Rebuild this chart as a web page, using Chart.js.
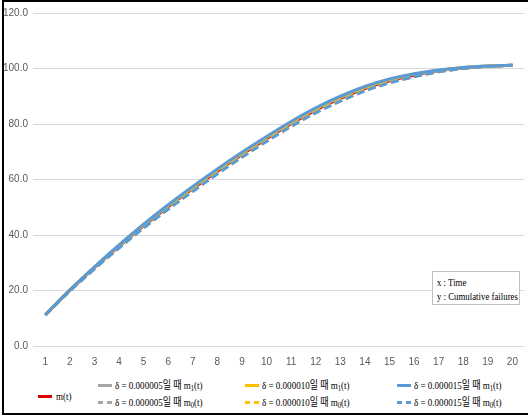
<!DOCTYPE html>
<html>
<head>
<meta charset="utf-8">
<script src="https://cdn.jsdelivr.net/npm/chart.js@4/dist/chart.umd.min.js"></script>
<style>
body{margin:0;background:#fff;}
#frame{position:relative;width:528px;height:420px;overflow:hidden;background:#fff;}
#edge{position:absolute;left:2px;top:0;width:530px;height:415px;border:2px solid #000;box-sizing:border-box;}
#chart{position:absolute;left:0;top:0;}
#note{position:absolute;left:432px;top:271px;width:88px;height:34px;box-sizing:border-box;border:1px solid #bfbfbf;background:#fff;padding:3px 0 0 4px;font:11px "Liberation Serif","Noto Sans CJK KR",serif;line-height:14px;color:#000;white-space:nowrap;}
#note div{transform:scaleX(0.8);transform-origin:left center;}
.key{position:absolute;width:14px;height:3px;}
.lbl{position:absolute;font:11px "Liberation Serif","Noto Sans CJK KR",serif;color:#000;white-space:nowrap;line-height:14px;transform:scaleX(0.82);transform-origin:left center;}
.lbl sub{font-size:8px;vertical-align:-2px;line-height:0;}
</style>
</head>
<body>
<div id="frame">
  <canvas id="chart" width="528" height="372"></canvas>
  <div id="note"><div>x : Time</div><div>y : Cumulative failures</div></div>
  <div id="legend"></div>
  <div id="edge"></div>
</div>
<script>
// DADOS
const tempos = ["1","2","3","4","5","6","7","8","9","10","11","12","13","14","15","16","17","18","19","20"];
const mt     = [11.2,20.0,28.2,35.9,43.3,50.2,56.7,63.0,69.0,74.7,80.1,85.0,89.2,92.8,95.6,97.6,99.2,100.2,100.8,101.2];
const m1_05  = [11.3,20.1,28.3,36.2,43.6,50.5,57.1,63.4,69.4,75.1,80.5,85.4,89.6,93.1,95.9,97.9,99.3,100.3,100.9,101.2];
const m0_05  = [11.2,19.9,27.9,35.6,42.8,49.6,56.1,62.4,68.4,74.1,79.5,84.4,88.6,92.2,95.1,97.3,98.9,100.1,100.8,101.2];
const m1_10  = [11.3,20.2,28.4,36.3,43.7,50.7,57.3,63.6,69.6,75.3,80.7,85.6,89.8,93.3,96.0,98.0,99.4,100.4,100.9,101.2];
const m0_10  = [11.1,19.9,27.9,35.4,42.6,49.5,55.9,62.2,68.2,73.9,79.3,84.2,88.4,92.1,94.9,97.1,98.9,100.1,100.7,101.2];
const m1_15  = [11.3,20.2,28.5,36.4,43.9,50.9,57.5,63.8,69.8,75.5,80.9,85.8,90.0,93.5,96.2,98.1,99.5,100.4,100.9,101.2];
const m0_15  = [11.1,19.8,27.8,35.3,42.5,49.3,55.7,62.0,68.0,73.7,79.1,84.0,88.2,91.9,94.8,97.0,98.8,100.0,100.7,101.2];
const yMin = 0, yMax = 120, yStep = 20;

const VERMELHO = "#e00000", CINZA = "#a5a5a5", AMARELO = "#ffc000", AZUL = "#5b9bd5";

function serie(label, data, cor, tracejado, ordem){
    return {
        label: label,
        data: data,
        borderColor: cor,
        backgroundColor: cor,
        borderWidth: 3,
        borderDash: tracejado ? [8,4] : [],
        pointRadius: 0,
        cubicInterpolationMode: 'monotone',
        fill: false,
        order: ordem
    };
}

const ctx = document.getElementById("chart").getContext("2d");
new Chart(ctx, {
    type: 'line',
    data: {
        labels: tempos,
        datasets: [
            serie("m(t)", mt, VERMELHO, false, 6),
            serie("δ = 0.000005 m1", m1_05, CINZA, false, 5),
            serie("δ = 0.000005 m0", m0_05, CINZA, true, 4),
            serie("δ = 0.000010 m1", m1_10, AMARELO, false, 3),
            serie("δ = 0.000010 m0", m0_10, AMARELO, true, 2),
            serie("δ = 0.000015 m1", m1_15, AZUL, false, 1),
            serie("δ = 0.000015 m0", m0_15, AZUL, true, 0)
        ]
    },
    options: {
        responsive: false,
        animation: false,
        layout: { padding: { top: 13, right: 1, left: 0, bottom: 0 } },
        plugins: { legend: { display: false }, tooltip: { enabled: false } },
        scales: {
            x: {
                offset: true,
                grid: { display: false, drawTicks: false },
                border: { display: false },
                ticks: { color: "#595959", padding: 10, font: { family: "'Liberation Sans Narrow','Liberation Sans',sans-serif", size: 10 }, maxRotation: 0 },
                afterFit: s => { s.height = 26; }
            },
            y: {
                min: yMin, max: yMax,
                grid: { color: "#d9d9d9", drawTicks: false, lineWidth: 1 },
                border: { display: false },
                ticks: { stepSize: yStep, color: "#595959", padding: 5, font: { family: "'Liberation Sans Narrow','Liberation Sans',sans-serif", size: 10 }, callback: v => v.toFixed(1) },
                afterFit: s => { s.width = 33; }
            }
        }
    }
});

// LEGENDA (html)
const legenda = document.getElementById("legend");
function chave(x, yc, cor, tracejado){
    const k = document.createElement("div");
    k.className = "key";
    k.style.left = x + "px";
    k.style.top = (yc - 1.5) + "px";
    k.style.background = tracejado ? `repeating-linear-gradient(90deg, ${cor} 0 5px, transparent 5px 9px)` : cor;
    legenda.appendChild(k);
}
function texto(x, yc, html){
    const t = document.createElement("div");
    t.className = "lbl";
    t.style.left = x + "px";
    t.style.top = (yc - 7) + "px";
    t.innerHTML = html;
    legenda.appendChild(t);
}
chave(38, 396, VERMELHO, false);
texto(56, 396, "m(t)");
const colunas = [
    { x: 98,  cor: CINZA,   d: "0.000005" },
    { x: 245, cor: AMARELO, d: "0.000010" },
    { x: 397, cor: AZUL,    d: "0.000015" }
];
colunas.forEach(c => {
    chave(c.x, 385, c.cor, false);
    texto(c.x + 17, 385, `δ = ${c.d}일 때 m<sub>1</sub>(t)`);
    chave(c.x, 402, c.cor, true);
    texto(c.x + 17, 402, `δ = ${c.d}일 때 m<sub>0</sub>(t)`);
});
</script>
</body>
</html>
